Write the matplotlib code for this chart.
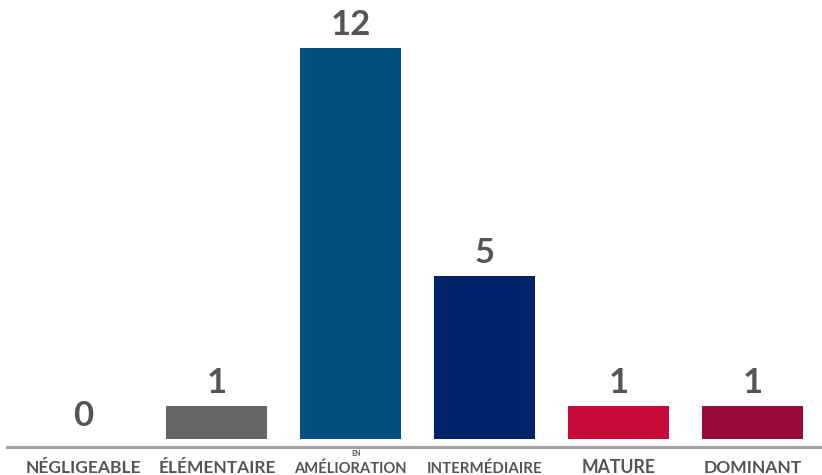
#!/usr/bin/env python3
"""Bar chart of maturity levels (counts per level)."""

import matplotlib.pyplot as plt
from matplotlib import transforms

categories = ["NÉGLIGEABLE", "ÉLÉMENTAIRE", "EN\nAMÉLIORATION", "INTERMÉDIAIRE", "MATURE", "DOMINANT"]
counts = [0, 1, 12, 5, 1, 1]
colors = ["#666666", "#666666", "#004f80", "#002268", "#c80a38", "#980a3a"]
label_sizes = [12.6, 12.5, 10.6, 10.8, 12.7, 12.6]

TEXT_COLOR = "#555555"
plt.rcParams["font.family"] = ["Lato", "DejaVu Sans"]

fig = plt.figure(figsize=(8.22, 4.75), dpi=100)
ax = fig.add_axes([7 / 822, 36.3 / 475, 1 - 7 / 822, 1 - 36.3 / 475])

positions = list(range(len(categories)))
bars = ax.bar(positions, counts, width=0.754, color=colors)
ax.bar_label(bars, fmt="%d", padding=5, fontsize=25, fontweight="bold", color=TEXT_COLOR)

ax.set_xlim(-0.568, 5.519)
ax.set_ylim(0, 13.47)
ax.set_yticks([])
ax.set_xticks([])
for side in ("left", "right", "top"):
    ax.spines[side].set_visible(False)
ax.spines["bottom"].set_position(("outward", 6))
ax.spines["bottom"].set_color("#a3a3a3")
ax.spines["bottom"].set_linewidth(2.2)

trans = transforms.blended_transform_factory(ax.transData, fig.transFigure)
for pos, name, size in zip(positions, categories, label_sizes):
    lines = name.split("\n")
    ax.text(pos, 2 / 475, lines[-1], transform=trans, ha="center", va="baseline",
            fontsize=size, fontweight="bold", color=TEXT_COLOR)
    if len(lines) > 1:
        ax.text(pos + 0.04, 19 / 475, lines[0], transform=trans, ha="center", va="baseline",
                fontsize=5, fontweight="bold", color=TEXT_COLOR)

fig.savefig("out.png", dpi=100)
